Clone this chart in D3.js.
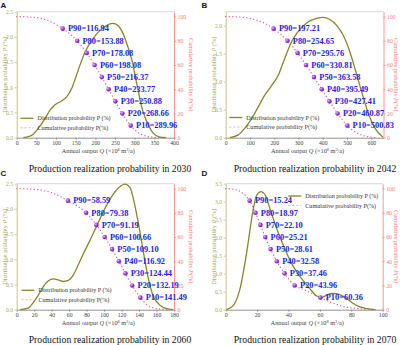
<!DOCTYPE html>
<html>
<head>
<meta charset="utf-8">
<script src="https://cdn.jsdelivr.net/npm/d3@7/dist/d3.min.js"></script>
<style>
  body { margin: 0; background: #fff; }
  svg { display: block; font-family: "Times New Roman", "Liberation Serif", serif; }
</style>
</head>
<body>
<svg id="chart" width="400" height="345"></svg>
<script>
// ---- values ----
var panelLetters = ["A", "B", "C", "D"];
var years = [2030, 2042, 2060, 2070];
var pLevels = [90, 80, 70, 60, 50, 40, 30, 20, 10];

var pValuesA = [116.94, 153.88, 178.08, 198.08, 216.37, 233.77, 250.88, 268.66, 289.96];
var pValuesB = [197.21, 254.65, 295.76, 330.81, 363.58, 395.49, 427.41, 460.87, 500.83];
var pValuesC = [58.59, 79.38, 91.19, 100.66, 109.10, 116.92, 124.44, 132.19, 141.49];
var pValuesD = [15.24, 18.97, 22.10, 25.21, 28.61, 32.58, 37.46, 43.96, 60.36];

// distribution probability P (%) : [Q, P]
var distA = [[17, 0], [30, 0.02], [42, 0.07], [55, 0.19], [72, 0.38], [85, 0.55], [97, 0.65], [114, 0.73],
  [127, 0.81], [140, 0.98], [152, 1.24], [160, 1.42], [174, 1.70], [191, 1.93], [212, 2.13], [229, 2.23],
  [243, 2.27], [254, 2.25], [265, 2.15], [272, 2.04], [280, 1.87], [290, 1.62], [296, 1.44], [302, 1.19],
  [309, 0.94], [315, 0.70], [322, 0.50], [335, 0.25], [347, 0.09], [364, 0.01], [380, 0]];
var distB = [[17, 0], [52, 0.05], [79, 0.17], [107, 0.34], [134, 0.55], [161, 0.76], [189, 0.93], [216, 1.11],
  [240, 1.38], [271, 1.71], [292, 1.86], [333, 2.05], [374, 2.13], [401, 2.15], [429, 2.11], [456, 2.01],
  [484, 1.83], [511, 1.54], [538, 1.15], [566, 0.73], [593, 0.37], [621, 0.13], [648, 0.01]];
var distC = [[4, 0], [13, 0.03], [19, 0.14], [24.7, 0.29], [30.5, 0.46], [36, 0.57], [42, 0.61], [47.6, 0.59],
  [53.3, 0.56], [59, 0.58], [64.8, 0.69], [70.5, 0.89], [76, 1.10], [84, 1.38], [91.5, 1.66], [99, 1.94],
  [107, 2.20], [114, 2.37], [124, 2.49], [129.7, 2.42], [133.5, 2.20], [139, 1.74], [145, 1.14], [150.6, 0.62],
  [156, 0.28], [164, 0.09], [171.6, 0.02], [179, 0]];
var distD = [[0.6, 0], [4.9, 0.12], [9.1, 0.58], [13.4, 1.60], [17.6, 2.80], [19.7, 3.18], [22.5, 3.28], [25, 3.20],
  [28.2, 2.80], [32.5, 2.25], [36.7, 1.79], [41, 1.37], [45.2, 1.05], [49.5, 0.80], [53.7, 0.58], [58, 0.38],
  [61, 0.34], [64.5, 0.41], [68.5, 0.45], [73, 0.41], [77, 0.31], [81, 0.18], [85.5, 0.08], [90, 0.03], [95, 0]];

// cumulative probability ends (between them the curve runs through the P-points)
var cumHeadA = [[0, 100], [40, 99.5], [85, 96]];
var cumTailA = [[310, 4], [330, 1.2], [350, 0.3], [365, 0]];
var cumHeadB = [[0, 100], [60, 99.5], [120, 97.5], [160, 94.5]];
var cumTailB = [[540, 4], [570, 1.5], [600, 0.4], [620, 0]];
var cumHeadC = [[0, 100], [20, 99.4], [40, 96.5]];
var cumTailC = [[150, 3.5], [158, 1.2], [166, 0.3], [172, 0]];
var cumHeadD = [[0, 100], [5, 99.4], [10, 97]];
var cumMidD = [[50.5, 16.2]];
var cumTailD = [[66, 6.6], [74, 3], [82.5, 1.1], [91, 0.3], [96, 0]];

// tick labels
var xTicksA = [0, 50, 100, 150, 200, 250, 300, 350, 400];
var xTicksB = [0, 100, 200, 300, 400, 500, 600];
var xTicksC = [0, 20, 40, 60, 80, 100, 120, 140, 160, 180];
var xTicksD = [0, 20, 40, 60, 80, 100];
var yTicksA = [0, 0.5, 1.0, 1.5, 2.0, 2.5];
var yTicksB = [0, 0.5, 1.0, 1.5, 2.0];
var yTicksC = [0, 0.5, 1.0, 1.5, 2.0, 2.5];
var yTicksD = [0, 0.5, 1.0, 1.5, 2.0, 2.5, 3.0, 3.5];
var cumTicks = [0, 20, 40, 60, 80, 100];
var xMax = [400, 650, 180, 100];
var yMax = [2.5, 2.25, 2.5, 3.5];
var cumMax = 104;

var legendLabels = ["Distribution probability P (%)", "Cumulative probability P(%)"];

// ---- layout ----
var olive = "#86862a", oliveAxis = "#b4b46c", red = "#ff7a7a", dotRed = "#e8608a",
  purple = "#9a35e0", blue = "#2323e0";

var panels = [
  {letter: 0, left: 16.7, right: 174, top: 11.7, bottom: 137.7, lx: 0.5, ly: 7.5, titleX: 110, titleY: 171.5,
    yTitleL: 5, yTitleR: 191.5, legX: 20.5, legY: 118.3, dist: distA, pv: pValuesA, head: cumHeadA, mid: [], tail: cumTailA,
    xt: xTicksA, yt: yTicksA},
  {letter: 1, left: 225.7, right: 383.5, top: 11.7, bottom: 137.7, lx: 201.5, ly: 7.5, titleX: 315, titleY: 171.5,
    yTitleL: 213.5, yTitleR: 396.5, legX: 229.3, legY: 117.5, dist: distB, pv: pValuesB, head: cumHeadB, mid: [], tail: cumTailB,
    xt: xTicksB, yt: yTicksB},
  {letter: 2, left: 16.7, right: 174, top: 183.7, bottom: 309.7, lx: 0.5, ly: 176, titleX: 110, titleY: 343,
    yTitleL: 5, yTitleR: 191.5, legX: 21.5, legY: 290.3, dist: distC, pv: pValuesC, head: cumHeadC, mid: [], tail: cumTailC,
    xt: xTicksC, yt: yTicksC},
  {letter: 3, left: 225.7, right: 382.7, top: 183.7, bottom: 309.7, lx: 201.5, ly: 176, titleX: 315, titleY: 343,
    yTitleL: 213.5, yTitleR: 396.5, legX: 288.3, legY: 196, dist: distD, pv: pValuesD, head: cumHeadD, mid: cumMidD, tail: cumTailD,
    xt: xTicksD, yt: yTicksD}
];

var svg = d3.select("#chart");

var defs = svg.append("defs");
var grad = defs.append("radialGradient").attr("id", "ball").attr("cx", "35%").attr("cy", "35%").attr("r", "70%");
grad.append("stop").attr("offset", "0%").attr("stop-color", "#e6b8ff");
grad.append("stop").attr("offset", "55%").attr("stop-color", purple);
grad.append("stop").attr("offset", "100%").attr("stop-color", "#6a1aa8");

panels.forEach(function (p, i) {
  var g = svg.append("g");
  var x = d3.scaleLinear().domain([0, xMax[i]]).range([p.left, p.right]);
  var y = d3.scaleLinear().domain([0, yMax[i]]).range([p.bottom, p.top]);
  var y2 = d3.scaleLinear().domain([0, cumMax]).range([p.bottom, p.top]);

  // top frame line
  g.append("line").attr("x1", p.left).attr("x2", p.right).attr("y1", p.top).attr("y2", p.top)
    .attr("stroke", "#c8c8c8").attr("stroke-width", 0.7);

  // bottom axis
  var xa = g.append("g").attr("transform", "translate(0," + p.bottom + ")")
    .call(d3.axisBottom(x).tickValues(p.xt).tickSize(2).tickSizeOuter(0).tickPadding(1.5).tickFormat(d3.format("d")));
  xa.select(".domain").attr("stroke", "#777").attr("stroke-width", 0.8);
  xa.selectAll(".tick line").attr("stroke", "#777").attr("stroke-width", 0.7);
  xa.selectAll(".tick text").attr("fill", "#444").attr("font-size", 5.8).attr("font-family", "Times New Roman, Liberation Serif, serif");

  // left axis
  var ya = g.append("g").attr("transform", "translate(" + p.left + ",0)")
    .call(d3.axisLeft(y).tickValues(p.yt).tickSize(2).tickSizeOuter(0).tickPadding(1.5).tickFormat(d3.format(".1f")));
  ya.select(".domain").attr("stroke", oliveAxis).attr("stroke-width", 0.8);
  ya.selectAll(".tick line").attr("stroke", oliveAxis).attr("stroke-width", 0.7);
  ya.selectAll(".tick text").attr("fill", "#a8a860").attr("font-size", 5.8).attr("font-family", "Times New Roman, Liberation Serif, serif");

  // right axis
  var ra = g.append("g").attr("transform", "translate(" + p.right + ",0)")
    .call(d3.axisRight(y2).tickValues(cumTicks).tickSize(2).tickSizeOuter(0).tickPadding(1.5).tickFormat(d3.format("d")));
  ra.select(".domain").attr("stroke", red).attr("stroke-width", 0.8);
  ra.selectAll(".tick line").attr("stroke", red).attr("stroke-width", 0.7);
  ra.selectAll(".tick text").attr("fill", red).attr("font-size", 5.8).attr("font-family", "Times New Roman, Liberation Serif, serif");

  // axis titles
  var xt = g.append("text").attr("x", (p.left + p.right) / 2 + 3).attr("y", p.bottom + 15.5)
    .attr("text-anchor", "middle").attr("font-size", 6.3).attr("fill", "#444");
  xt.append("tspan").text("Annual output ");
  xt.append("tspan").attr("font-style", "italic").text("Q");
  xt.append("tspan").text(" (\u00d710");
  xt.append("tspan").attr("font-size", 4.2).attr("dy", -2.2).text("8");
  xt.append("tspan").attr("dy", 2.2).text(" m");
  xt.append("tspan").attr("font-size", 4.2).attr("dy", -2.2).text("3");
  xt.append("tspan").attr("dy", 2.2).text("/a)");

  var cy = (p.top + p.bottom) / 2;
  var lt = g.append("text").attr("transform", "translate(" + p.yTitleL + "," + cy + ") rotate(-90)")
    .attr("text-anchor", "middle").attr("dy", "0.35em").attr("font-size", 6.3).attr("fill", "#a8a860");
  lt.append("tspan").text("Distribution probability ");
  lt.append("tspan").attr("font-style", "italic").text("P");
  lt.append("tspan").text(" (%)");
  var rt = g.append("text").attr("transform", "translate(" + p.yTitleR + "," + cy + ") rotate(90)")
    .attr("text-anchor", "middle").attr("dy", "0.35em").attr("font-size", 6.3).attr("fill", red);
  rt.append("tspan").text("Cumulative probability ");
  rt.append("tspan").attr("font-style", "italic").text("P");
  rt.append("tspan").text("(%)");

  // cumulative curve through the P points
  var cum = p.head.concat(p.pv.map(function (q, k) { return [q, pLevels[k]]; }), p.mid, p.tail)
    .sort(function (a, b) { return a[0] - b[0]; });
  g.append("path").datum(cum)
    .attr("d", d3.line().x(function (d) { return x(d[0]); }).y(function (d) { return y2(d[1]); }).curve(d3.curveMonotoneX))
    .attr("fill", "none").attr("stroke", dotRed).attr("stroke-width", 1.3)
    .attr("stroke-linecap", "round").attr("stroke-dasharray", "0.2,3.3");

  // distribution curve
  g.append("path").datum(p.dist)
    .attr("d", d3.line().x(function (d) { return x(d[0]); }).y(function (d) { return y(d[1]); }).curve(d3.curveMonotoneX))
    .attr("fill", "none").attr("stroke", olive).attr("stroke-width", 1.3);

  // P markers + labels
  var pts = p.pv.map(function (q, k) { return {q: q, level: pLevels[k]}; });
  g.selectAll("circle.pm").data(pts).join("circle").attr("class", "pm")
    .attr("cx", function (d) { return x(d.q); }).attr("cy", function (d) { return y2(d.level); })
    .attr("r", 2.3).attr("fill", "url(#ball)");
  g.selectAll("text.pl").data(pts).join("text").attr("class", "pl")
    .attr("x", function (d) { return x(d.q) + 5.3; }).attr("y", function (d) { return y2(d.level); })
    .attr("dy", "0.33em").attr("font-size", 8.4).attr("font-weight", "bold").attr("fill", blue)
    .text(function (d) { return "P" + d.level + "=" + d.q.toFixed(2); });

  // legend
  var leg = g.append("g").attr("transform", "translate(" + p.legX + "," + p.legY + ")");
  leg.append("line").attr("x1", 0).attr("x2", 13).attr("y1", 0).attr("y2", 0)
    .attr("stroke", olive).attr("stroke-width", 1.3);
  leg.append("line").attr("x1", 0).attr("x2", 13).attr("y1", 9.5).attr("y2", 9.5)
    .attr("stroke", "#f0a0b8").attr("stroke-width", 0.9).attr("stroke-dasharray", "2,2");
  leg.selectAll("text").data(legendLabels).join("text")
    .attr("x", 17).attr("y", function (d, k) { return k * 9.5; }).attr("dy", "0.35em")
    .attr("font-size", 6.1).attr("fill", "#333").text(function (d) { return d; });

  // panel letter + title
  g.append("text").attr("x", p.lx).attr("y", p.ly).attr("font-family", "Arial, Liberation Sans, sans-serif")
    .attr("font-weight", "bold").attr("font-size", 8).attr("fill", "#111").text(panelLetters[p.letter]);
  g.append("text").attr("x", p.titleX).attr("y", p.titleY).attr("text-anchor", "middle")
    .attr("font-size", 9.7).attr("fill", "#111").text("Production realization probability in " + years[i]);
});
</script>
</body>
</html>
